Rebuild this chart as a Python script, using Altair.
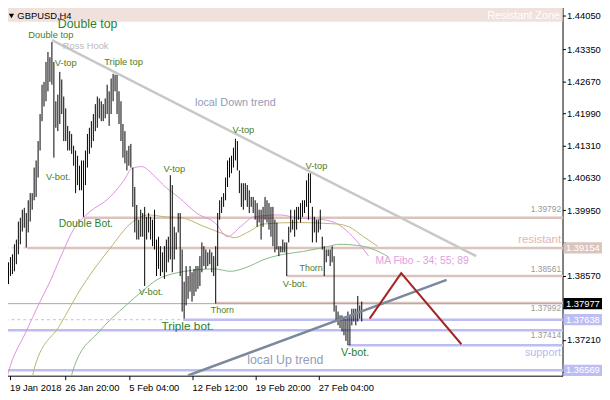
import altair as alt
import pandas as pd

# ---------------- data ----------------
bar_high = [
    1.3919, 1.3887, 1.3902, 1.3885, 1.3896, 1.3902, 1.3923, 1.3933, 1.3971, 1.3979,
    1.3996, 1.4000, 1.3989, 1.4016, 1.4031, 1.4031, 1.4085, 1.4100, 1.4141, 1.4198,
    1.4260, 1.4266, 1.4308, 1.4329, 1.4318, 1.4350, 1.4308, 1.4225, 1.4239, 1.4287,
    1.4271, 1.4235, 1.4210, 1.4173, 1.4162, 1.4156, 1.4131, 1.4121, 1.4110, 1.4089,
    1.4100, 1.4100, 1.4121, 1.4156, 1.4169, 1.4183, 1.4198, 1.4219, 1.4235, 1.4231,
    1.4225, 1.4219, 1.4231, 1.4260, 1.4246, 1.4273, 1.4283, 1.4281, 1.4281, 1.4246,
    1.4225, 1.4177, 1.4162, 1.4121, 1.4131, 1.4135, 1.4085, 1.4044, 1.4006, 1.3975,
    1.3996, 1.3989, 1.4002, 1.3981, 1.3989, 1.3981, 1.3975, 1.3996, 1.3933, 1.3939,
    1.3919, 1.3906, 1.3919, 1.3933, 1.3939, 1.4069, 1.4048, 1.3960, 1.3948, 1.3989,
    1.3989, 1.3912, 1.3844, 1.3877, 1.3856, 1.3877, 1.3864, 1.3871, 1.3877, 1.3877,
    1.3898, 1.3927, 1.3919, 1.3912, 1.3906, 1.3912, 1.3906, 1.3898, 1.3919, 1.3989,
    1.4016, 1.4023, 1.4031, 1.4064, 1.4100, 1.4106, 1.4110, 1.4127, 1.4146, 1.4141,
    1.4079, 1.4052, 1.4052, 1.4052, 1.4048, 1.4037, 1.4023, 1.4023, 1.4016, 1.4010,
    1.3996, 1.3996, 1.4002, 1.4023, 1.4016, 1.4010, 1.4002, 1.4002, 1.3975, 1.3969,
    1.3919, 1.3919, 1.3933, 1.3927, 1.3927, 1.3960, 1.3996, 1.3975, 1.3996, 1.4002,
    1.4002, 1.4010, 1.4016, 1.4016, 1.4058, 1.4073, 1.4073, 1.4002, 1.3981, 1.3975,
    1.3975, 1.3996, 1.3939, 1.3919, 1.3912, 1.3912, 1.3912, 1.3919, 1.3898, 1.3794,
    1.3781, 1.3773, 1.3773, 1.3766, 1.3766, 1.3781, 1.3773, 1.3787, 1.3787, 1.3787,
    1.3814, 1.3794, 1.3802,
]
bar_low = [
    1.3835, 1.3835, 1.3850, 1.3839, 1.3856, 1.3860, 1.3866, 1.3881, 1.3902, 1.3923,
    1.3950, 1.3958, 1.3916, 1.3948, 1.3971, 1.3996, 1.4016, 1.4023, 1.4064, 1.4121,
    1.4183, 1.4214, 1.4225, 1.4246, 1.4266, 1.4260, 1.4106, 1.4169, 1.4162, 1.4177,
    1.4198, 1.4141, 1.4141, 1.4121, 1.4121, 1.4114, 1.4089, 1.4031, 1.4048, 1.4037,
    1.4037, 1.3981, 1.4048, 1.4085, 1.4114, 1.4127, 1.4141, 1.4162, 1.4169, 1.4189,
    1.4183, 1.4183, 1.4189, 1.4198, 1.4173, 1.4198, 1.4225, 1.4246, 1.4198, 1.4177,
    1.4141, 1.4106, 1.4094, 1.4079, 1.4089, 1.4085, 1.4002, 1.3948, 1.3933, 1.3933,
    1.3939, 1.3939, 1.3835, 1.3933, 1.3948, 1.3933, 1.3919, 1.3912, 1.3856, 1.3871,
    1.3856, 1.3864, 1.3850, 1.3864, 1.3885, 1.3891, 1.3864, 1.3891, 1.3912, 1.3948,
    1.3856, 1.3781, 1.3766, 1.3794, 1.3808, 1.3823, 1.3802, 1.3814, 1.3823, 1.3829,
    1.3835, 1.3864, 1.3877, 1.3871, 1.3877, 1.3881, 1.3864, 1.3856, 1.3798, 1.3877,
    1.3975, 1.3989, 1.4002, 1.4016, 1.4044, 1.4064, 1.4073, 1.4085, 1.4100, 1.4079,
    1.4031, 1.4002, 1.3996, 1.4016, 1.4002, 1.3989, 1.4002, 1.3989, 1.3975, 1.3960,
    1.3969, 1.3933, 1.3960, 1.3975, 1.3969, 1.3954, 1.3939, 1.3919, 1.3906, 1.3912,
    1.3898, 1.3906, 1.3906, 1.3906, 1.3856, 1.3927, 1.3948, 1.3954, 1.3939, 1.3954,
    1.3975, 1.3969, 1.3981, 1.3989, 1.4002, 1.3975, 1.4010, 1.3927, 1.3948, 1.3927,
    1.3948, 1.3954, 1.3912, 1.3856, 1.3885, 1.3898, 1.3877, 1.3885, 1.3781, 1.3760,
    1.3752, 1.3746, 1.3739, 1.3731, 1.3719, 1.3710, 1.3710, 1.3752, 1.3760, 1.3752,
    1.3760, 1.3766, 1.3760,
]

# moving averages (bar index, price)
ma34_idx = [1.5, 4, 11.5, 19, 24, 30, 36.5, 44, 54, 61.5, 65.5, 70.5, 76.5, 82.5, 89, 99,
            107.5, 114, 120.5, 127.5, 140.5, 149, 162.5, 170.5, 177.5, 185.5]
ma34_val = [1.3631, 1.3667, 1.3735, 1.3802, 1.3844, 1.3902, 1.3958, 1.3991, 1.4021, 1.4058,
            1.4083, 1.4087, 1.4069, 1.4044, 1.4023, 1.3987, 1.3969, 1.3939, 1.3960, 1.3981,
            1.3985, 1.3979, 1.3975, 1.3964, 1.3939, 1.3898]
ma55_idx = [14.5, 16.5, 29, 40.5, 54, 65.5, 74, 82.5, 90.5, 102.5, 112.5, 117.5, 124, 132.5,
            149, 169, 175.5, 183, 190]
ma55_val = [1.3631, 1.3667, 1.3752, 1.3835, 1.3912, 1.3969, 1.3985, 1.3981, 1.3979, 1.3960,
            1.3944, 1.3937, 1.3948, 1.3966, 1.3969, 1.3966, 1.3960, 1.3939, 1.3919]
ma89_idx = [34, 36.5, 49, 62.5, 70.5, 79, 85.5, 92.5, 107.5, 115.5, 124, 132.5, 142.5, 152.5,
            165.5, 170.5, 182.5, 195]
ma89_val = [1.3631, 1.3667, 1.3739, 1.3794, 1.3823, 1.3850, 1.3860, 1.3866, 1.3871, 1.3866,
            1.3875, 1.3891, 1.3902, 1.3908, 1.3919, 1.3923, 1.3919, 1.3898]

# trend lines (start index, start price, end index, end price)
down_trend = [25, 1.4354, 240, 1.3898]
up_trend = [94, 1.3646, 225, 1.3848]
zigzag_idx = [186, 202, 232.5]
zigzag_val = [1.3766, 1.3862, 1.3712]

# horizontal levels: price, start index, end index
pink_levels = [(1.39792, 41, 284), (1.39154, 12.5, 284),
               (1.38561, 144, 284), (1.37992, 108, 284)]
lav_levels = [(1.37638, 91.5, 284), (1.37414, -1.5, 284),
              (1.37100, 175, 284), (1.36569, -1.5, 284)]
dashed_levels = [(1.39154, -1.5, 12.5, "#D8BEB8"), (1.37638, -1.5, 91.5, "#BDBDF3")]
bid_price = 1.37977

# axis ticks (labels hidden behind the price boxes are left blank)
y_ticks = [1.44050, 1.43350, 1.42670, 1.41990, 1.41310, 1.40630, 1.39950,
           1.39270, 1.38570, 1.37890, 1.37210, 1.36530]
y_hidden = [1.39270, 1.37890, 1.36530]
x_tick_pos = [3.5, 31.5, 64, 96, 128, 160]
x_tick_lab = ["19 Jan 2018", "26 Jan 20:00", "5 Feb 04:00", "12 Feb 12:00",
              "19 Feb 20:00", "27 Feb 04:00"]

# right-side price boxes
box_price = [1.39154, 1.37977, 1.37638, 1.36569]
box_text = ["1.39154", "1.37977", "1.37638", "1.36569"]
box_color = ["#DCC4BE", "#000000", "#BDBDF3", "#BDBDF3"]

G1 = "#4E7D1E"
G2 = "#2E7F2A"
TR = "#8F9DB8"
left_labels = [
    (28, 1.4387, "Double top", G2, 12.5),
    (13, 1.4364, "Double top", G1, 9.5),
    (30.5, 1.4341, "Ross Hook", "#BBBBBB", 9.5),
    (26.5, 1.4306, "V-top", G1, 9.5),
    (51.5, 1.4308, "Triple top", G1, 9.5),
    (97.5, 1.4221, "local Down trend", TR, 11),
    (116.5, 1.4164, "V-top", G1, 9.5),
    (81.5, 1.4081, "V-top", G1, 9.5),
    (153.5, 1.4089, "V-top", G1, 9.5),
    (22, 1.4066, "V-bot.", G1, 9.5),
    (28.5, 1.3966, "Double Bot.", G2, 10.5),
    (69, 1.3823, "V-bot.", G1, 9.5),
    (105.5, 1.3785, "Thorn", G1, 9),
    (80.5, 1.3750, "Triple bot.", G2, 12),
    (150.5, 1.3873, "Thorn", G1, 9),
    (142, 1.3839, "V-bot.", G1, 9.5),
    (189, 1.3887, "MA Fibo - 34; 55; 89", "#E0A0E0", 10.5),
    (124, 1.3679, "local  Up trend", TR, 12.5),
    (171.5, 1.3694, "V-bot.", G2, 11),
    (7.5, 1.4405, "GBPUSD,H4", "#000000", 9.5),
]
right_labels = [
    (283, 1.3931, "resistant", "#DDB8B0", 11.5),
    (283, 1.3694, "support", "#B8B8F0", 11),
    (283, 1.3998, "1.39792", "#999999", 8.5),
    (283, 1.3871, "1.38561", "#999999", 8.5),
    (283, 1.3789, "1.37992", "#999999", 8.5),
    (283, 1.3731, "1.37414", "#999999", 8.5),
    (282.5, 1.4405, "Resistant Zone", "#FFFFFF", 11),
]

# ---------------- chart ----------------
FONT = "Liberation Sans"
xs = alt.Scale(domain=[-1.25, 283.75], nice=False, zero=False)
ys = alt.Scale(domain=[1.36456, 1.44331], nice=False, zero=False)

label_expr = " : ".join(
    f"datum.value < {p + 1} ? '{l}'" for p, l in zip(x_tick_pos[:-1], x_tick_lab[:-1])
) + f" : '{x_tick_lab[-1]}'"
y_label_expr = " || ".join(f"abs(datum.value - {h}) < 0.00002" for h in y_hidden) + \
    " ? '' : format(datum.value, '.5f')"
AX = alt.Axis(
    orient="bottom", values=x_tick_pos, labelExpr=label_expr, grid=False, title=None,
    domainColor="black", tickColor="black", tickSize=4, labelColor="black",
    labelFont=FONT, labelFontSize=9.5, labelAlign="left", labelBaseline="top",
    labelPadding=3, labelFlush=False, labelOverlap=False, labelBound=False)
AY = alt.Axis(
    orient="right", values=y_ticks, labelExpr=y_label_expr, grid=False, title=None,
    domainColor="black", tickColor="black", tickSize=3, labelColor="black",
    labelFont=FONT, labelFontSize=9.5, labelAlign="left", labelPadding=1,
    labelFlush=False, labelOverlap=False, labelBound=False)


def X(f):
    return alt.X(f"{f}:Q", scale=xs, axis=AX)


def Y(f):
    return alt.Y(f"{f}:Q", scale=ys, axis=AY)


zone = alt.Chart(pd.DataFrame({"x": [-1.25], "x2": [283.75], "y": [1.4393], "y2": [1.44331]})
                 ).mark_rect(color="#F0E1DD").encode(x=X("x"), x2="x2:Q", y=Y("y"), y2="y2:Q")

pink_df = pd.DataFrame(pink_levels, columns=["p", "a", "b"])
pink = alt.Chart(pink_df).mark_rule(color="#DCC4BE", strokeWidth=2.5).encode(
    x=X("a"), x2="b:Q", y=Y("p"))
lav_df = pd.DataFrame(lav_levels, columns=["p", "a", "b"])
lav = alt.Chart(lav_df).mark_rule(color="#BDBDF3", strokeWidth=2.5).encode(
    x=X("a"), x2="b:Q", y=Y("p"))
dash_df = pd.DataFrame(dashed_levels, columns=["p", "a", "b", "c"])
dashed = alt.Chart(dash_df).mark_rule(strokeWidth=1, strokeDash=[3, 3]).encode(
    x=X("a"), x2="b:Q", y=Y("p"), color=alt.Color("c:N", scale=None))
bid = alt.Chart(pd.DataFrame({"p": [bid_price], "a": [-1.25], "b": [283.75]})).mark_rule(
    color="#A8A8A8", strokeWidth=1).encode(x=X("a"), x2="b:Q", y=Y("p"))


def ma(idx, val, color):
    return alt.Chart(pd.DataFrame({"i": idx, "v": val})).mark_line(
        color=color, strokeWidth=1, clip=True, interpolate="monotone").encode(x=X("i"), y=Y("v"))


ma34 = ma(ma34_idx, ma34_val, "#DD92DD")
ma55 = ma(ma55_idx, ma55_val, "#BDB56B")
ma89 = ma(ma89_idx, ma89_val, "#86B886")

bars_df = pd.DataFrame({"i": list(range(len(bar_high))), "hi": bar_high, "lo": bar_low})
bars = alt.Chart(bars_df).mark_rule(color="black", strokeWidth=1).encode(
    x=X("i"), y=Y("lo"), y2="hi:Q")

trend_df = pd.DataFrame([down_trend + ["#C8C8C8"], up_trend + ["#7A8A9C"]],
                        columns=["a", "pa", "b", "pb", "c"])
trends = alt.Chart(trend_df).mark_rule(strokeWidth=2.5, clip=True).encode(
    x=X("a"), x2="b:Q", y=Y("pa"), y2="pb:Q", color=alt.Color("c:N", scale=None))

zig = alt.Chart(pd.DataFrame({"i": zigzag_idx, "v": zigzag_val})).mark_line(
    color="#A52424", strokeWidth=2).encode(x=X("i"), y=Y("v"))

ldf = pd.DataFrame(left_labels, columns=["i", "p", "t", "c", "s"])
ltext = alt.Chart(ldf).mark_text(align="left", baseline="middle", font=FONT).encode(
    x=X("i"), y=Y("p"), text="t:N", color=alt.Color("c:N", scale=None),
    size=alt.Size("s:Q", scale=None))
rdf = pd.DataFrame(right_labels, columns=["i", "p", "t", "c", "s"])
rtext = alt.Chart(rdf).mark_text(align="right", baseline="middle", font=FONT).encode(
    x=X("i"), y=Y("p"), text="t:N", color=alt.Color("c:N", scale=None),
    size=alt.Size("s:Q", scale=None))

tri = alt.Chart(pd.DataFrame({"i": [4.5], "p": [1.4405]})).mark_point(
    shape="triangle-down", filled=True, color="black", size=28, opacity=1).encode(
    x=X("i"), y=Y("p"))

bdf = pd.DataFrame({"p": box_price, "t": box_text, "c": box_color})
bdf["lo"] = bdf["p"] - 0.00118
bdf["hi"] = bdf["p"] + 0.00118
bdf["a"] = 284.25
bdf["b"] = 304.5
bdf["ti"] = 285.5
boxes = alt.Chart(bdf).mark_rect().encode(
    x=X("a"), x2="b:Q", y=Y("lo"), y2="hi:Q", color=alt.Color("c:N", scale=None))
btext = alt.Chart(bdf).mark_text(align="left", baseline="middle", font=FONT, fontSize=9.5,
                                 color="white").encode(x=X("ti"), y=Y("p"), text="t:N")

chart = alt.layer(
    zone, pink, lav, dashed, bid, ma34, ma55, ma89, bars, trends, zig,
    ltext, rtext, tri, boxes, btext
).properties(
    width=570, height=378,
    padding={"left": -8, "top": -8, "right": 40, "bottom": 22},
    autosize=alt.AutoSizeParams(type="none"),
    background="white",
).configure_view(stroke=None)

chart.save("out.html", embed_options={"renderer": "svg", "actions": False})
